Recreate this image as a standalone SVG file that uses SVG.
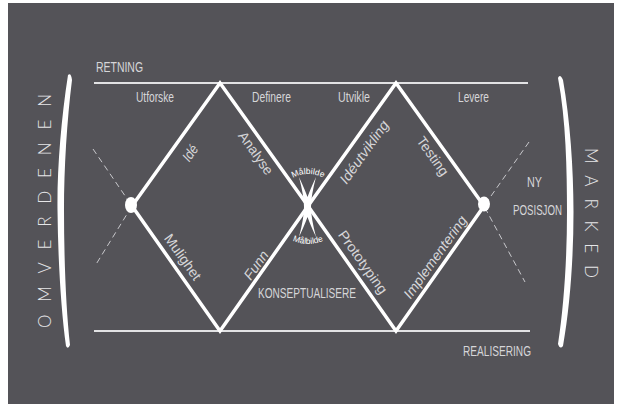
<svg xmlns="http://www.w3.org/2000/svg" width="621" height="407" viewBox="0 0 621 407">
<style>
.lbl{font-family:"Liberation Sans",Arial,sans-serif;font-size:15px;fill:#d6d6d8}
.rot{font-family:"Liberation Sans",Arial,sans-serif;font-size:14px;fill:#d6d6d8;text-anchor:middle}
.it{font-style:italic}
.side{font-family:Lato,"Liberation Sans",sans-serif;font-weight:300;font-size:17px;fill:#e6e6e8;text-anchor:middle}
.mb{font-family:"Liberation Sans",Arial,sans-serif;font-size:8.5px;fill:#ffffff;text-anchor:middle}
.edge{fill:none;stroke:#ffffff;stroke-width:3.5;stroke-linejoin:miter}
.rail{stroke:#e2e2e4;stroke-width:2}
.dash{stroke:#c8c8cc;stroke-width:1;stroke-dasharray:6 4;fill:none}
</style>
<defs>
<path id="arcTop" d="M 276,206 A 32 32 0 0 1 340,206"/>
<path id="arcBot" d="M 270,206 A 38 38 0 0 0 346,206"/>
</defs>
<rect x="0" y="0" width="621" height="407" fill="#ffffff"/>
<rect x="8" y="3" width="606" height="401" fill="#545358"/>

<g id="connectors">
<line class="rail" x1="94" y1="83" x2="528" y2="83"/>
<line class="rail" x1="94" y1="331" x2="530" y2="331"/>
<polyline class="dash" points="93,149 132,206 95,266"/>
<polyline class="dash" points="529,142 484,206 525,282"/>
<polygon class="edge" points="220,83 308,206 220,331 132,206"/>
<polygon class="edge" points="396,83 484,206 396,331 308,206"/>
</g>

<g id="bracket-left">
<path d="M68,75 C61,120 57,170 57.5,210 C58,260 61,310 66,346 Q68,350 70,345 C66,308 64,260 64,210 C64,168 67,120 72,80 Q71,72 68,75 Z" fill="#ffffff"/>
</g>
<g id="bracket-right">
<path d="M558,78 C566,120 567,170 567,212 C567,258 564,305 558,344 Q560,350 563,346 C570,306 573.5,258 573.5,212 C573.5,168 570,120 563,80 Q560,73 558,78 Z" fill="#ffffff"/>
</g>

<g id="omverdenen"><text class="side" transform="translate(51,211) rotate(-90)" textLength="234" lengthAdjust="spacing">OMVERDENEN</text></g>
<g id="marked"><text class="side" transform="translate(585,213) rotate(90)" textLength="130" lengthAdjust="spacing">MARKED</text></g>

<g id="retning"><text class="lbl" x="96" y="72" textLength="47" lengthAdjust="spacingAndGlyphs">RETNING</text></g>
<g id="realisering"><text class="lbl" x="463" y="356" font-size="16" textLength="68" lengthAdjust="spacingAndGlyphs">REALISERING</text></g>
<g id="utforske"><text class="lbl" x="136" y="102" textLength="38" lengthAdjust="spacingAndGlyphs">Utforske</text></g>
<g id="definere"><text class="lbl" x="252" y="102" textLength="39" lengthAdjust="spacingAndGlyphs">Definere</text></g>
<g id="utvikle"><text class="lbl" x="338" y="102" textLength="32" lengthAdjust="spacingAndGlyphs">Utvikle</text></g>
<g id="levere"><text class="lbl" x="458" y="102" textLength="31" lengthAdjust="spacingAndGlyphs">Levere</text></g>
<g id="konseptualisere"><text class="lbl" x="258" y="298" font-size="16" textLength="98" lengthAdjust="spacingAndGlyphs">KONSEPTUALISERE</text></g>
<g id="ny-posisjon">
<text class="lbl" x="527" y="187" font-size="17" textLength="15" lengthAdjust="spacingAndGlyphs">NY</text>
<text class="lbl" x="513" y="215" font-size="17" textLength="49" lengthAdjust="spacingAndGlyphs">POSISJON</text>
</g>

<g id="start-dot"><ellipse cx="131" cy="205" rx="6" ry="8" fill="#ffffff"/></g>
<g id="end-dot"><ellipse cx="484" cy="204" rx="6" ry="7.5" fill="#ffffff"/></g>

<g id="ide"><text class="rot it" transform="translate(190,153) rotate(-54.5)" dy="5" textLength="17" lengthAdjust="spacingAndGlyphs">Idé</text></g>
<g id="analyse"><text class="rot" transform="translate(256,153) rotate(54.5)" dy="5">Analyse</text></g>
<g id="mulighet"><text class="rot" transform="translate(183,257) rotate(54.5)" dy="5">Mulighet</text></g>
<g id="funn"><text class="rot it" transform="translate(256,265) rotate(-54.5)" dy="5">Funn</text></g>
<g id="ideutvikling"><text class="rot it" transform="translate(364,152) rotate(-54.5)" dy="5" textLength="74" lengthAdjust="spacingAndGlyphs">Idéutvikling</text></g>
<g id="testing"><text class="rot" transform="translate(433,156) rotate(54.5)" dy="5">Testing</text></g>
<g id="prototyping"><text class="rot" transform="translate(363,262) rotate(54.5)" dy="5" textLength="74" lengthAdjust="spacingAndGlyphs">Prototyping</text></g>
<g id="implementering"><text class="rot it" transform="translate(435,257) rotate(-54.5)" dy="5" textLength="98" lengthAdjust="spacingAndGlyphs">Implementering</text></g>

<g id="malbilde">
<path d="M299,177 Q305,190 307.5,197 Q310,190 316,177 Q311,196 311,207 Q311,218 316,237 Q310,224 307.5,217 Q305,224 299,237 Q304,218 304,207 Q304,196 299,177 Z" fill="#ffffff"/>
<text class="mb"><textPath href="#arcTop" startOffset="50%">Målbilde</textPath></text>
<text class="mb"><textPath href="#arcBot" startOffset="50%">Målbilde</textPath></text>
</g>
</svg>
